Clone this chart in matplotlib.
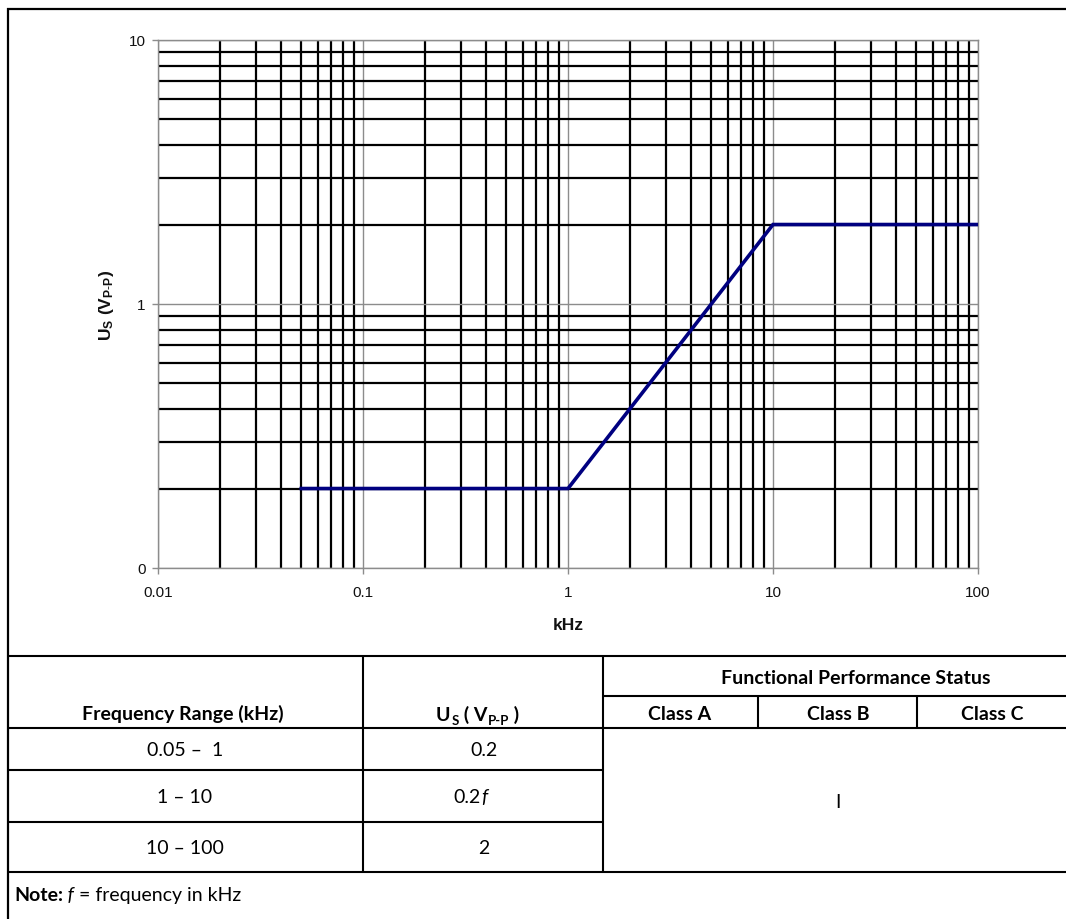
import matplotlib
matplotlib.use("Agg")
import matplotlib.pyplot as plt
from matplotlib.lines import Line2D
from matplotlib.ticker import FixedLocator, NullFormatter

# ---------------- data ----------------
freq_khz = [0.05, 1, 2, 5, 10, 100]
us_vpp = [0.2, 0.2, 0.4, 1.0, 2, 2]
x_ticks = [0.01, 0.1, 1, 10, 100]
x_tick_labels = ["0.01", "0.1", "1", "10", "100"]
y_ticks = [0.1, 1, 10]
y_tick_labels = ["0", "1", "10"]

table_ranges = ["0.05 \u2013  1", "1 \u2013 10", "10 \u2013 100"]
table_values = ["0.2", "0.2", "2"]
table_value_italic = ["", "f", ""]
class_headers = ["Class A", "Class B", "Class C"]
status_value = "I"

plt.rcParams['mathtext.fontset'] = 'custom'
plt.rcParams['mathtext.rm'] = 'Liberation Sans'
plt.rcParams['mathtext.bf'] = 'Liberation Sans:bold'
plt.rcParams['mathtext.it'] = 'Liberation Sans:italic'

W, H = 1066, 920
fig = plt.figure(figsize=(W / 100, H / 100), dpi=100)
fig.patch.set_facecolor("white")


def fx(x):
    return x / W


def fy(y):
    return 1 - y / H


def hline(x0, x1, y, lw=1.5):
    fig.add_artist(Line2D([fx(x0), fx(x1)], [fy(y), fy(y)], color="black", lw=lw,
                          solid_capstyle="butt"))


def vline(x, y0, y1, lw=1.5):
    fig.add_artist(Line2D([fx(x), fx(x)], [fy(y0), fy(y1)], color="black", lw=lw,
                          solid_capstyle="butt"))


# ---------------- chart ----------------
L, R, T, B = 158, 978, 41, 569
ax = fig.add_axes([fx(L), fy(B), (R - L) / W, (B - T) / H])
ax.set_xscale("log")
ax.set_yscale("log")
ax.set_xlim(0.01, 100)
ax.set_ylim(0.1, 10)

ax.xaxis.set_major_locator(FixedLocator(x_ticks))
ax.set_xticklabels(x_tick_labels)
ax.yaxis.set_major_locator(FixedLocator(y_ticks))
ax.set_yticklabels(y_tick_labels)
ax.xaxis.set_minor_formatter(NullFormatter())
ax.yaxis.set_minor_formatter(NullFormatter())

ax.grid(True, which="minor", color="black", lw=1.6)
ax.grid(True, which="major", color="#8c8c8c", lw=1.0)
ax.set_axisbelow(True)

for s in ax.spines.values():
    s.set_color("#8c8c8c")
    s.set_linewidth(1.0)

ax.tick_params(which="major", direction="out", length=4, width=1, color="#8c8c8c",
               labelsize=11, labelcolor="#111111")
ax.tick_params(axis="x", which="major", pad=8)
ax.tick_params(axis="y", which="major", pad=5)
ax.tick_params(which="minor", length=0)
for lab in ax.get_xticklabels() + ax.get_yticklabels():
    lab.set_fontfamily("Liberation Sans")

ax.plot(freq_khz, us_vpp, color="#000080", lw=2.6, solid_joinstyle="miter", zorder=5)

fig.text(fx(568), fy(626), "kHz", ha="center", va="center", fontsize=12.5,
         fontweight="bold", family="Liberation Sans", color="#111111")
fig.text(fx(107), fy(305), r"$\mathbf{U_S\ (V_{P\text{-}P})}$", ha="center", va="center",
         rotation=90, fontsize=12.5, color="#111111")

# ---------------- frame & table ----------------
hline(7, W, 10, lw=1.6)
vline(8, 9, H, lw=1.6)
hline(7, W, 657)
hline(603, W, 697)
hline(7, W, 729)
hline(7, 603, 771)
hline(7, 603, 823)
hline(7, W, 873)
vline(363, 657, 873)
vline(603, 657, 873)
vline(758, 697, 729)
vline(917, 697, 729)

TF = "Lato"
FS = 14
FSS = 9.5

fig.text(fx(183), fy(714), "Frequency Range (kHz)", ha="center", va="center",
         fontsize=FS, fontweight="bold", family=TF)
fig.text(fx(856), fy(679), "Functional Performance Status", ha="center", va="center",
         fontsize=FS, fontweight="bold", family=TF)
for cx, lab in zip([680, 838, 992], class_headers):
    fig.text(fx(cx), fy(715), lab, ha="center", va="center", fontsize=FS,
             fontweight="bold", family=TF)

# U_S ( V_P-P ) header assembled from parts
t1 = fig.text(fx(436), fy(721), "U", ha="left", va="baseline", fontsize=FS,
              fontweight="bold", family=TF)
t2 = plt.annotate("S", xy=(1, 0), xycoords=t1, xytext=(0.5, -2.5),
                  textcoords="offset points", ha="left", va="bottom", fontsize=FSS,
                  fontweight="bold", family=TF, annotation_clip=False)
t3 = plt.annotate(" ( V", xy=(1, 0), xycoords=t2, xytext=(0, 2.5),
                  textcoords="offset points", ha="left", va="bottom", fontsize=FS,
                  fontweight="bold", family=TF, annotation_clip=False)
t4 = plt.annotate("P-P", xy=(1, 0), xycoords=t3, xytext=(0.5, -2.5),
                  textcoords="offset points", ha="left", va="bottom", fontsize=FSS,
                  fontweight="bold", family=TF, annotation_clip=False)
t5 = plt.annotate(" )", xy=(1, 0), xycoords=t4, xytext=(0, 2.5),
                  textcoords="offset points", ha="left", va="bottom", fontsize=FS,
                  fontweight="bold", family=TF, annotation_clip=False)

row_y = [751, 798, 849]
for ry, rng, val, it in zip(row_y, table_ranges, table_values, table_value_italic):
    fig.text(fx(185), fy(ry), rng, ha="center", va="center", fontsize=FS, family=TF)
    if it:
        tv = fig.text(fx(481), fy(ry), val, ha="right", va="center", fontsize=FS, family=TF)
        plt.annotate(it, xy=(1, 0), xycoords=tv, ha="left", va="bottom", fontsize=FS,
                     family=TF, style="italic", annotation_clip=False)
    else:
        fig.text(fx(484), fy(ry), val, ha="center", va="center", fontsize=FS, family=TF)

fig.text(fx(838), fy(803), status_value, ha="center", va="center", fontsize=FS, family=TF)

n1 = fig.text(fx(14), fy(896), "Note:", ha="left", va="center", fontsize=FS,
              fontweight="bold", family=TF)
n2 = plt.annotate(" f", xy=(1, 0), xycoords=n1, ha="left", va="bottom", fontsize=FS,
                  family=TF, style="italic", annotation_clip=False)
plt.annotate(" = frequency in kHz", xy=(1, 0), xycoords=n2, ha="left", va="bottom",
             fontsize=FS, family=TF, annotation_clip=False)

fig.savefig("out.png", dpi=100, facecolor="white")
